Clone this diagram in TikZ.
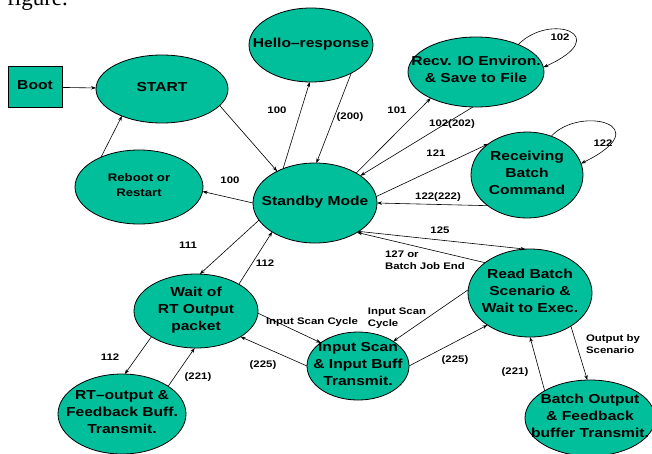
\documentclass[tikz,border=0pt]{standalone}
\usepackage{fontspec}
\setmainfont{Liberation Serif}
\newfontfamily\dgfont{Liberation Sans}[FakeStretch=1.2]
\usetikzlibrary{shapes.geometric,arrows.meta}
\definecolor{stfill}{RGB}{0,191,154}
% centred multi-line text that does not enlarge its node
\newcommand\nodetxt[1]{\smash{\makebox[0pt]{\raisebox{-2pt}{\begin{tabular}{@{}c@{}}#1\end{tabular}}}}}
\begin{document}
\begin{tikzpicture}[x=1pt,y=-1pt,
  st/.style={ellipse,draw=black,line width=0.8pt,fill=stfill,inner sep=0pt,outer sep=0pt,
    font=\dgfont\bfseries\fontsize{13}{17}\selectfont},
  bx/.style={rectangle,draw=black,line width=0.8pt,fill=stfill,inner sep=0pt,outer sep=0pt,
    font=\dgfont\bfseries\fontsize{13}{17}\selectfont},
  lab/.style={inner sep=0pt,align=left,font=\dgfont\bfseries\fontsize{9.5}{12}\selectfont},
  ar/.style={-{Stealth[length=5pt,width=3.5pt]},line width=0.6pt}]
\useasboundingbox (0,0) rectangle (652,453);

% caption fragment at the top edge
\node[anchor=base west,inner sep=0pt,font=\fontsize{23}{23}\selectfont] (cap) at (7,5) {figure.};

% states
\node[bx,minimum width=54pt,minimum height=41pt] (boot) at (35,87) {\nodetxt{Boot}};
\node[st,minimum width=132pt,minimum height=68pt] (start) at (162,89) {\nodetxt{START}};
\node[st,minimum width=124pt,minimum height=74pt] (hello) at (311,45) {\nodetxt{Hello–response}};
\node[st,minimum width=136pt,minimum height=70pt] (recv) at (476,72) {\nodetxt{Recv. IO Environ.\\ \& Save to File}};
\node[st,minimum width=112pt,minimum height=86pt] (rcv) at (527,175) {\nodetxt{Receiving\\Batch\\Command}};
\node[st,minimum width=124pt,minimum height=80pt] (sb) at (315,203) {\nodetxt{Standby Mode}};
\node[st,minimum width=128pt,minimum height=74pt,font=\dgfont\bfseries\fontsize{11}{15}\selectfont] (reb) at (139,187) {\nodetxt{Reboot or\\Restart}};
\node[st,minimum width=124pt,minimum height=74pt] (wait) at (196,311) {\nodetxt{Wait of\\RT Output\\packet}};
\node[st,minimum width=128pt,minimum height=80pt] (rto) at (122,414) {\nodetxt{RT–output \&\\Feedback Buff.\\Transmit.}};
\node[st,minimum width=102pt,minimum height=68pt] (isc) at (358,366) {\nodetxt{Input Scan\\\& Input Buff\\Transmit.}};
\node[st,minimum width=124pt,minimum height=88pt] (rbs) at (530,293) {\nodetxt{Read Batch\\Scenario \&\\Wait to Exec.}};
\node[st,minimum width=130pt,minimum height=76pt] (bout) at (590,418) {\nodetxt{Batch Output\\\& Feedback\\buffer Transmit.}};

% transitions
\draw[ar] (boot) -- (start);
\draw[ar] (reb.142) -- (start.214);
\draw[ar] (start.344) -- (sb.140);
\draw[ar] (sb.133) -- (hello.268);
\draw[ar] (hello.325) -- (sb.88);
\draw[ar] (sb.36) -- (recv.210);
\draw[ar] (recv.265) -- (sb.31);
\draw[ar] (recv.33) .. controls (550,12) and (615,35) .. (recv.4);
\draw[ar] (sb.6) -- (rcv.141);
\draw[ar] (rcv.218) -- (sb.east);
\draw[ar] (rcv.58) .. controls (580,105) and (660,125) .. (rcv.12);
\draw[ar] (sb.180) -- (reb.356);
\draw[ar] (sb.197) -- (wait.84);
\draw[ar] (wait.32) -- (sb.214);
\draw[ar] (wait.210) -- (rto.86);
\draw[ar] (rto.31) -- (wait.268);
\draw[ar] (wait.358) -- (isc.148);
\draw[ar] (isc.180) -- (wait.330);
\draw[ar] (rbs.177) -- (isc.35);
\draw[ar] (isc.0) -- (rbs.217);
\draw[ar] (sb.327) -- (rbs.96);
\draw[ar] (rbs.146) -- (sb.325);
\draw[ar] (rbs.321) -- (bout.94);
\draw[ar] (bout.149) -- (rbs.270);

% transition labels
\node[lab] (l100a) at (277,110) {100};
\node[lab] (l200) at (350,117) {(200)};
\node[lab] (l101) at (397,110) {101};
\node[lab] (l102b) at (452,124) {102(202)};
\node[lab] (l102) at (560,37) {102};
\node[lab] (l121) at (436,153) {121};
\node[lab] (l122b) at (438,197) {122(222)};
\node[lab] (l122) at (603,143) {122};
\node[lab] (l100b) at (230,180) {100};
\node[lab] (l111) at (188,245) {111};
\node[lab] (l112a) at (265,263) {112};
\node[lab] (l112b) at (110,357) {112};
\node[lab] (l221a) at (198,377) {(221)};
\node[lab] (lisa) at (312,322) {Input Scan Cycle};
\node[lab] (l225a) at (263,365) {(225)};
\node[lab] (lisb) at (397,318) {Input Scan\\Cycle};
\node[lab] (l225b) at (455,360) {(225)};
\node[lab] (l125) at (440,230) {125};
\node[lab] (l127) at (425,260) {127 or\\Batch Job End};
\node[lab] (lout) at (613,344) {Output by\\Scenario};
\node[lab] (l221b) at (515,372) {(221)};
\end{tikzpicture}
\end{document}
